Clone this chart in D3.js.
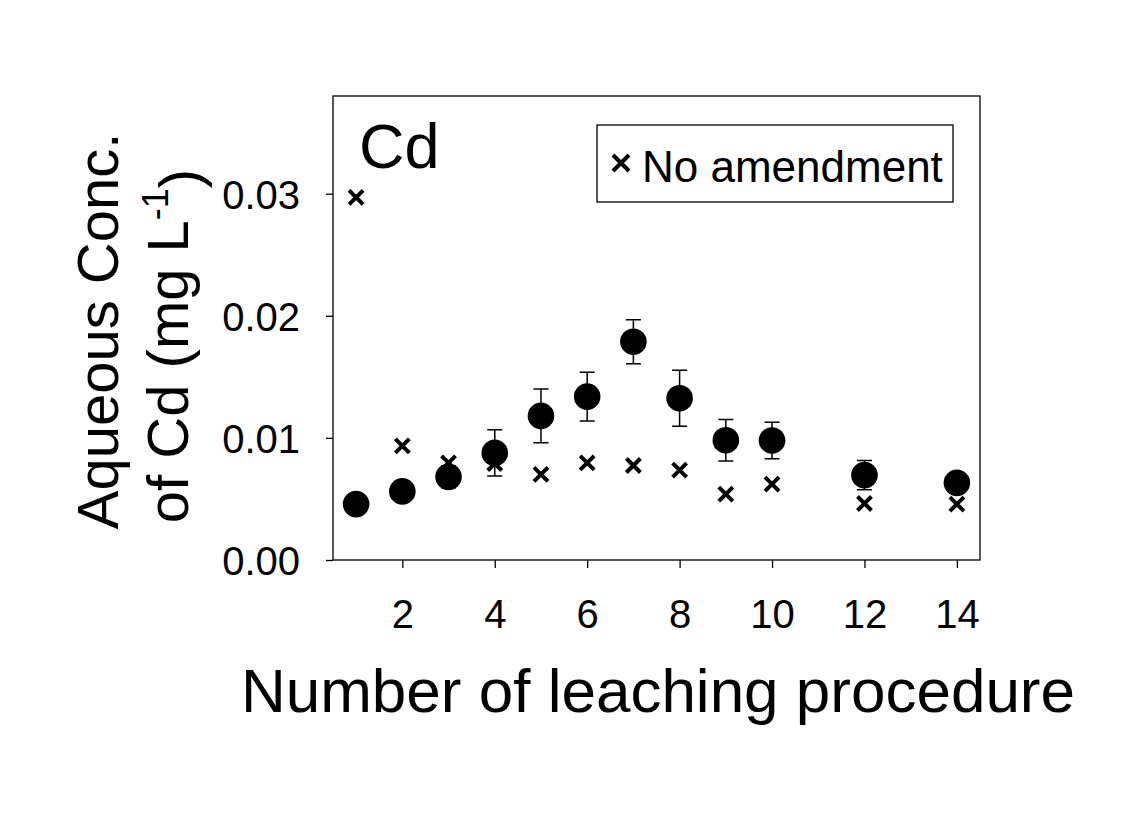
<!DOCTYPE html>
<html>
<head>
<meta charset="utf-8">
<script src="https://cdn.jsdelivr.net/npm/d3@7"></script>
<style>
  html, body { margin: 0; padding: 0; background: #fff; }
  svg { display: block; font-family: "Liberation Sans", Arial, sans-serif; }
</style>
</head>
<body>
<svg id="chart" width="1139" height="827"></svg>
<script>
// ---- data ----
const steps = [1, 2, 3, 4, 5, 6, 7, 8, 9, 10, 12, 14];
const amendedMean = [0.00458, 0.00562, 0.00681, 0.00877, 0.0118, 0.01338, 0.01788, 0.01325, 0.00981, 0.00979, 0.00695, 0.00632];
const amendedErr  = [0.0002, 0.0002, 0.0009, 0.0019, 0.0022, 0.0020, 0.0018, 0.0023, 0.0017, 0.0015, 0.0012, 0.0004];
const noAmendment = [0.0297, 0.00935, 0.00796, 0.0079, 0.00701, 0.00796, 0.00774, 0.00736, 0.0054, 0.00621, 0.00463, 0.00458];
const xTicks = [2, 4, 6, 8, 10, 12, 14];
const yTicks = [0, 0.01, 0.02, 0.03];
const legendLabel = "No amendment";
const panelLabel = "Cd";

// ---- layout ----
const svg = d3.select("#chart");
const L = 333, R = 980, T = 96, B = 560;
const x = d3.scaleLinear().domain([0.5, 14.5]).range([L, R]);
const y = d3.scaleLinear().domain([0, 0.038]).range([B, T]);

// frame
svg.append("rect").attr("x", L).attr("y", T).attr("width", R - L).attr("height", B - T)
  .attr("fill", "none").attr("stroke", "#000").attr("stroke-width", 1.3);

// axes
const xAxis = svg.append("g").attr("transform", `translate(0,${B})`)
  .call(d3.axisBottom(x).tickValues(xTicks).tickSize(8).tickPadding(32).tickFormat(d3.format("d")));
const yAxis = svg.append("g").attr("transform", `translate(${L},0)`)
  .call(d3.axisLeft(y).tickValues(yTicks).tickSize(7).tickPadding(26).tickFormat(d3.format(".2f")));
[xAxis, yAxis].forEach(g => {
  g.select(".domain").remove();
  g.selectAll(".tick line").attr("stroke", "#000").attr("stroke-width", 1.3);
  g.selectAll(".tick text").attr("fill", "#000").style("font-size", "40px")
    .style("font-family", "'Liberation Sans', Arial, sans-serif");
});
yAxis.selectAll(".tick text").attr("dy", "0.36em");

// axis titles
svg.append("text").attr("x", 658).attr("y", 712).attr("text-anchor", "middle")
  .style("font-size", "62px").text("Number of leaching procedure");

const yt = svg.append("g");
yt.append("text").attr("transform", "translate(118,331) rotate(-90)").attr("text-anchor", "middle")
  .style("font-size", "58px").text("Aqueous Conc.");
const yt2 = yt.append("text").attr("transform", "translate(188,346) rotate(-90)").attr("text-anchor", "middle")
  .style("font-size", "58px");
yt2.append("tspan").text("of Cd (mg L");
yt2.append("tspan").attr("dy", "-0.55em").style("font-size", "36px").text("-1");
yt2.append("tspan").attr("dy", "0.55em").text(")");

// panel label
svg.append("text").attr("x", 359).attr("y", 168).style("font-size", "63px").text(panelLabel);

// cross marker path
const crossPath = (cx, cy, h) => `M${cx - h},${cy - h}L${cx + h},${cy + h}M${cx - h},${cy + h}L${cx + h},${cy - h}`;

// legend
svg.append("rect").attr("x", 597).attr("y", 125).attr("width", 356).attr("height", 77)
  .attr("fill", "#fff").attr("stroke", "#000").attr("stroke-width", 1.3);
svg.append("path").attr("d", crossPath(621, 163, 8)).attr("stroke", "#000").attr("stroke-width", 4).attr("fill", "none");
svg.append("text").attr("x", 642).attr("y", 182).style("font-size", "44px").text(legendLabel);

const data = steps.map((s, i) => ({ s, m: amendedMean[i], e: amendedErr[i], n: noAmendment[i] }));

// error bars
const eb = svg.append("g").attr("stroke", "#000").attr("stroke-width", 1.5).attr("fill", "none");
data.forEach(d => {
  const cx = x(d.s), y1 = y(d.m + d.e), y2 = y(d.m - d.e);
  eb.append("path").attr("d", `M${cx},${y1}L${cx},${y2}M${cx - 7.5},${y1}L${cx + 7.5},${y1}M${cx - 7.5},${y2}L${cx + 7.5},${y2}`);
});

// crosses
svg.append("g").selectAll("path").data(data).join("path")
  .attr("d", d => crossPath(x(d.s), y(d.n), 7))
  .attr("stroke", "#000").attr("stroke-width", 4).attr("fill", "none");

// circles
svg.append("g").selectAll("circle").data(data).join("circle")
  .attr("cx", d => x(d.s)).attr("cy", d => y(d.m)).attr("r", 13.3).attr("fill", "#000");
</script>
</body>
</html>
